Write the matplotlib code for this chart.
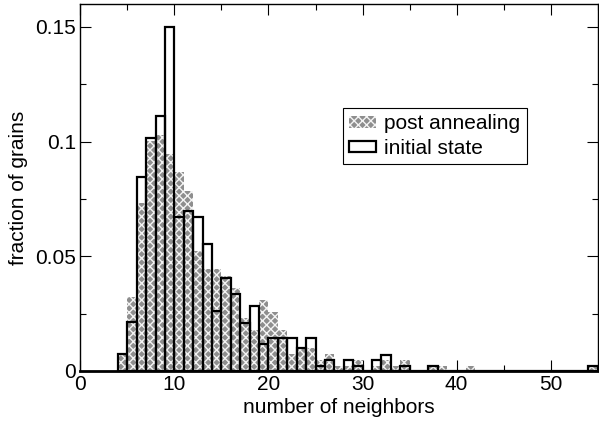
import matplotlib
matplotlib.use("Agg")
import matplotlib.pyplot as plt
from matplotlib.ticker import MultipleLocator, FixedFormatter, FixedLocator

plt.rcParams['font.family'] = ['Liberation Sans', 'DejaVu Sans']
plt.rcParams['hatch.linewidth'] = 1.0

# bin left edges (number of neighbors), unit width
bins = list(range(4, 55))

# fraction of grains per bin
post_annealing = [
    0.0068, 0.0324, 0.0734, 0.1004, 0.1029, 0.0946, 0.0866, 0.0786, 0.0525, 0.0445,  # 4-13
    0.0445, 0.0416, 0.0362, 0.0230, 0.0179, 0.0310, 0.0256, 0.0179, 0.0073, 0.0095,  # 14-23
    0.0099, 0.0046, 0.0073, 0.0020, 0.0020, 0.0046, 0.0, 0.0020, 0.0046, 0.0020,      # 24-33
    0.0046, 0.0, 0.0, 0.0020, 0.0020, 0.0, 0.0, 0.0020, 0.0, 0.0,                      # 34-43
    0.0, 0.0, 0.0, 0.0, 0.0, 0.0, 0.0, 0.0, 0.0, 0.0, 0.0020,                          # 44-54
]
initial_state = [
    0.0073, 0.0215, 0.0847, 0.1017, 0.1109, 0.1500, 0.0672, 0.0699, 0.0670, 0.0552,  # 4-13
    0.0263, 0.0404, 0.0334, 0.0211, 0.0285, 0.0116, 0.0143, 0.0143, 0.0143, 0.0099,  # 14-23
    0.0143, 0.0020, 0.0047, 0.0, 0.0047, 0.0020, 0.0, 0.0047, 0.0070, 0.0,            # 24-33
    0.0020, 0.0, 0.0, 0.0020, 0.0, 0.0, 0.0, 0.0, 0.0, 0.0,                            # 34-43
    0.0, 0.0, 0.0, 0.0, 0.0, 0.0, 0.0, 0.0, 0.0, 0.0, 0.0020,                          # 44-54
]

x_ticks = [0, 10, 20, 30, 40, 50]
y_ticks = [0, 0.05, 0.1, 0.15]
y_tick_labels = ["0", "0.05", "0.1", "0.15"]

fig = plt.figure(figsize=(5.99, 4.24), dpi=100)
ax = fig.add_axes([0.134, 0.125, 0.864, 0.866])

ax.bar(bins, post_annealing, width=1.0, align='edge', facecolor='#8e8e8e',
       edgecolor='#f4f4f4', hatch='xxxx', linewidth=0, label='post annealing', zorder=2)
ax.bar(bins, initial_state, width=1.0, align='edge', fill=False,
       edgecolor='black', linewidth=1.6, label='initial state', zorder=3)

ax.set_xlim(0, 55)
ax.set_ylim(0, 0.16)
ax.xaxis.set_major_locator(FixedLocator(x_ticks))
ax.xaxis.set_minor_locator(MultipleLocator(5))
ax.yaxis.set_major_locator(FixedLocator(y_ticks))
ax.yaxis.set_major_formatter(FixedFormatter(y_tick_labels))
ax.yaxis.set_minor_locator(MultipleLocator(0.025))

ax.tick_params(which='both', direction='in', top=True, right=True,
               labelsize=15, width=0.8, colors='black')
ax.tick_params(which='major', length=8, pad=3)
ax.tick_params(which='minor', length=4.5)

for side, sp in ax.spines.items():
    sp.set_linewidth(1.0)
ax.spines['bottom'].set_linewidth(2.0)

ax.set_xlabel("number of neighbors", fontsize=15, labelpad=3)
ax.set_ylabel("fraction of grains", fontsize=15, labelpad=5)

leg = ax.legend(loc='upper left', bbox_to_anchor=(0.507, 0.716), fontsize=15,
                frameon=True, fancybox=False, framealpha=1, edgecolor='black',
                handlelength=1.3, handleheight=0.45, handletextpad=0.4,
                borderpad=0.3, labelspacing=0.25, borderaxespad=0)
leg.get_frame().set_linewidth(0.8)

fig.savefig("out.png", dpi=100)
